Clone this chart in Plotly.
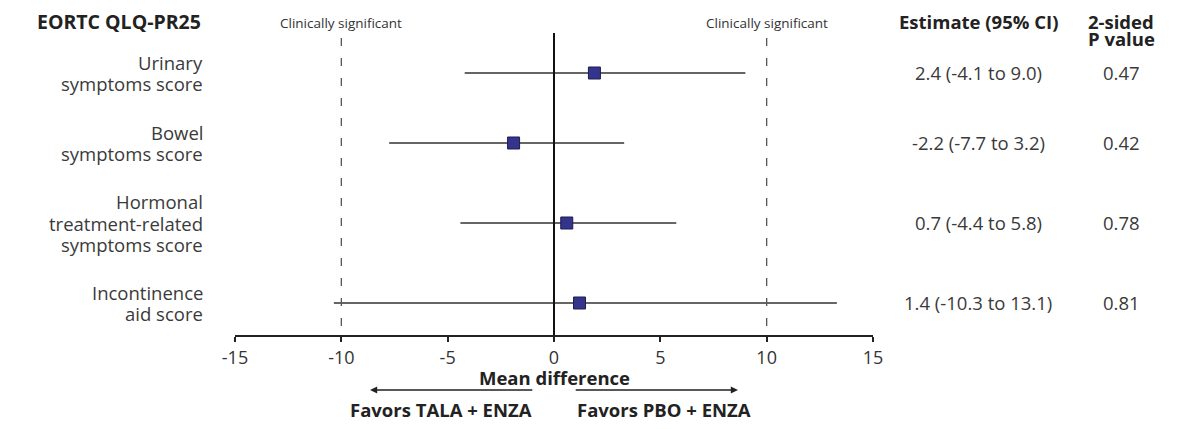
import plotly.graph_objects as go

# ---------------- data ----------------
outcomes = [
    ["Urinary", "symptoms score"],
    ["Bowel", "symptoms score"],
    ["Hormonal", "treatment-related", "symptoms score"],
    ["Incontinence", "aid score"],
]
point_est = [1.9, -1.9, 0.6, 1.2]          # marker positions as drawn
ci_low = [-4.2, -7.75, -4.4, -10.35]
ci_high = [9.0, 3.3, 5.75, 13.3]
estimate_text = ["2.4 (-4.1 to 9.0)", "-2.2 (-7.7 to 3.2)", "0.7 (-4.4 to 5.8)", "1.4 (-10.3 to 13.1)"]
p_values = ["0.47", "0.42", "0.78", "0.81"]
x_ticks = [-15, -10, -5, 0, 5, 10, 15]
clinical_threshold = [-10, 10]

# ---------------- layout helpers ----------------
W, H = 1200, 429
plot_left, plot_right = 235, 873
plot_top, plot_bottom = 0, 335           # pixel rows of plot area
row_y = [73, 143, 223, 303]             # vertical position of each row (pixel units on y axis)
LINE_H = 21.5
FONT = "Open Sans"
TXT = "#3a3a3a"
BOLD = "#222222"
FS = 18.5

def px_x(px):
    return (px - plot_left) / (plot_right - plot_left)

def px_y(py):
    return (plot_bottom - py) / (plot_bottom - plot_top)

fig = go.Figure()

# CI lines
for i in range(len(outcomes)):
    fig.add_trace(go.Scatter(
        x=[ci_low[i], ci_high[i]], y=[row_y[i], row_y[i]], mode="lines",
        line=dict(color="#333333", width=1.5), hoverinfo="skip", showlegend=False))

# point estimates
fig.add_trace(go.Scatter(
    x=point_est, y=row_y, mode="markers",
    marker=dict(symbol="square", size=12, color="#34348c",
                line=dict(color="#1c1c50", width=1)),
    showlegend=False, hoverinfo="skip"))

shapes = []
# zero line
shapes.append(dict(type="line", xref="x", yref="y", x0=0, x1=0, y0=33, y1=plot_bottom,
                   line=dict(color="#111111", width=2)))
# clinically significant dashed lines
for t in clinical_threshold:
    shapes.append(dict(type="line", xref="x", yref="y", x0=t, x1=t, y0=38, y1=plot_bottom,
                       line=dict(color="#555555", width=1.3, dash="8px,12px")))

ann = []
# row labels
for i, lines in enumerate(outcomes):
    n = len(lines)
    for j, line in enumerate(lines):
        ann.append(dict(text=line, xref="paper", yref="y", x=px_x(205),
                        y=row_y[i] + (j - (n - 1) / 2) * LINE_H,
                        xanchor="right", yanchor="middle", showarrow=False,
                        font=dict(family=FONT, size=FS, color=TXT)))
    ann.append(dict(text=estimate_text[i], xref="paper", yref="y", x=px_x(978), y=row_y[i] - 1,
                    xanchor="center", yanchor="middle", showarrow=False,
                    font=dict(family=FONT, size=FS, color=TXT)))
    ann.append(dict(text=p_values[i], xref="paper", yref="y", x=px_x(1121), y=row_y[i] - 1,
                    xanchor="center", yanchor="middle", showarrow=False,
                    font=dict(family=FONT, size=FS, color=TXT)))

# headers
ann.append(dict(text="<b>EORTC QLQ-PR25</b>", xref="paper", yref="y", x=px_x(203), y=21,
                xanchor="right", yanchor="middle", showarrow=False,
                font=dict(family=FONT, size=19.5, color=BOLD)))
ann.append(dict(text="<b>Estimate (95% CI)</b>", xref="paper", yref="y", x=px_x(978), y=21,
                xanchor="center", yanchor="middle", showarrow=False,
                font=dict(family=FONT, size=FS, color=BOLD)))
ann.append(dict(text="<b>2-sided</b>", xref="paper", yref="y", x=px_x(1121), y=21,
                xanchor="center", yanchor="middle", showarrow=False,
                font=dict(family=FONT, size=FS, color=BOLD)))
ann.append(dict(text="<b>P value</b>", xref="paper", yref="y", x=px_x(1121), y=38,
                xanchor="center", yanchor="middle", showarrow=False,
                font=dict(family=FONT, size=FS, color=BOLD)))
for t in clinical_threshold:
    ann.append(dict(text="Clinically significant", xref="x", yref="y", x=t, y=23,
                    xanchor="center", yanchor="middle", showarrow=False,
                    font=dict(family=FONT, size=13.5, color="#333333")))

# bottom labels
ann.append(dict(text="<b>Mean difference</b>", xref="x", yref="paper", x=0, y=px_y(377),
                xanchor="center", yanchor="middle", showarrow=False,
                font=dict(family=FONT, size=FS, color=BOLD)))
ann.append(dict(text="<b>Favors TALA + ENZA</b>", xref="paper", yref="paper", x=px_x(534),
                y=px_y(409), xanchor="right", yanchor="middle", showarrow=False,
                font=dict(family=FONT, size=FS, color=BOLD)))
ann.append(dict(text="<b>Favors PBO + ENZA</b>", xref="paper", yref="paper", x=px_x(575),
                y=px_y(409), xanchor="left", yanchor="middle", showarrow=False,
                font=dict(family=FONT, size=FS, color=BOLD)))
# arrows
ann.append(dict(text="", xref="x", yref="paper", x=-8.65, y=px_y(390),
                axref="x", ayref="pixel", ax=-0.95, ay=0, showarrow=True,
                arrowhead=2, arrowsize=1.1, arrowwidth=1.3, arrowcolor="#222222"))
ann.append(dict(text="", xref="x", yref="paper", x=8.65, y=px_y(390),
                axref="x", ayref="pixel", ax=0.95, ay=0, showarrow=True,
                arrowhead=2, arrowsize=1.1, arrowwidth=1.3, arrowcolor="#222222"))

fig.update_layout(
    width=W, height=H,
    margin=dict(l=plot_left, r=W - plot_right, t=plot_top, b=H - plot_bottom, autoexpand=False),
    paper_bgcolor="white", plot_bgcolor="white",
    shapes=shapes, annotations=ann,
    xaxis=dict(range=[-15, 15], tickvals=x_ticks, ticktext=[str(v) for v in x_ticks],
               showgrid=False, zeroline=False, showline=True, linecolor="#222222", linewidth=2,
               ticks="outside", ticklen=5, tickwidth=2, tickcolor="#222222",
               tickfont=dict(family=FONT, size=18, color="#333333"), fixedrange=True),
    yaxis=dict(range=[plot_bottom, plot_top], autorange=False, visible=False,
               showgrid=False, zeroline=False, fixedrange=True),
)

fig.write_html("out.html")
